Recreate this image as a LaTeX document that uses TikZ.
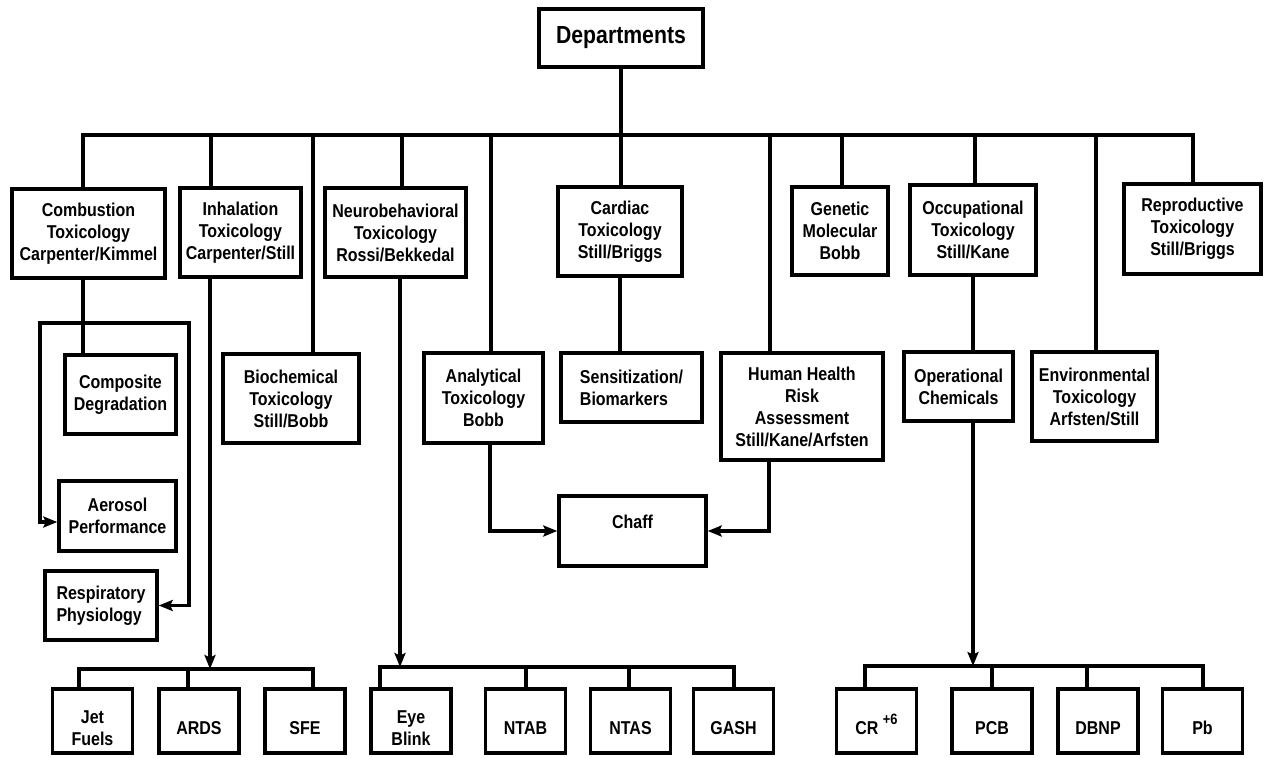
\documentclass[tikz,border=0pt]{standalone}
\usepackage{fontspec}
\setmainfont{Liberation Sans}[FakeStretch=0.86]
\usetikzlibrary{arrows.meta}

\begin{document}
\begin{tikzpicture}[x=1pt,y=-1pt,line width=3.4pt,
  box/.style={draw,rectangle,align=center,inner sep=2pt,font=\fontsize{18.6}{22}\selectfont\bfseries},
  sz/.style 2 args={minimum width=#1,minimum height=#2},
  leaf/.style={box,sz={80pt}{64pt},text height=27pt},
  leafii/.style={box,sz={80pt}{64pt},text height=49pt},
  arr/.style={-{Stealth[length=14pt,width=11pt,inset=2.5pt]}},
  arrs/.style={{Stealth[length=14pt,width=11pt,inset=2.5pt]}-{Stealth[length=14pt,width=11pt,inset=2.5pt]}}]
\useasboundingbox (0,0) rectangle (1265,757);

\node[box,sz={164pt}{58pt},font=\fontsize{24.7}{28}\selectfont\bfseries] (dep) at (621,38) {Departments};

% departments row
\node[box,sz={153pt}{89pt}] (comb) at (88.5,233.5) {Combustion\\Toxicology\\Carpenter/Kimmel};
\node[box,sz={121pt}{89pt}] (inh) at (240.5,232.5) {Inhalation\\Toxicology\\Carpenter/Still};
\node[box,sz={141pt}{89pt}] (neuro) at (395.5,232.5) {Neurobehavioral\\Toxicology\\Rossi/Bekkedal};
\node[box,sz={124pt}{89pt}] (card) at (620,231.5) {Cardiac\\Toxicology\\Still/Briggs};
\node[box,sz={96pt}{88pt}] (gen) at (840,231) {Genetic\\Molecular\\Bobb};
\node[box,sz={126pt}{90pt}] (occ) at (973,230) {Occupational\\Toxicology\\Still/Kane};
\node[box,sz={137pt}{90pt}] (rep) at (1192.5,229) {Reproductive\\Toxicology\\Still/Briggs};

% second row
\node[box,sz={111pt}{79pt}] (compo) at (120.5,394.5) {Composite\\Degradation};
\node[box,sz={136pt}{89pt}] (bio) at (291,398.5) {Biochemical\\Toxicology\\Still/Bobb};
\node[box,sz={119pt}{90pt}] (ana) at (483.5,398) {Analytical\\Toxicology\\Bobb};
\node[box,sz={141pt}{69pt},align=left] (sens) at (631.5,387.5) {Sensitization/\\Biomarkers};
\node[box,sz={162pt}{107pt}] (hh) at (802,406.5) {Human Health\\Risk\\Assessment\\Still/Kane/Arfsten};
\node[box,sz={109pt}{69pt}] (oper) at (958.5,386.5) {Operational\\Chemicals};
\node[box,sz={125pt}{89pt}] (env) at (1094.5,396.5) {Environmental\\Toxicology\\Arfsten/Still};
\node[box,sz={117pt}{70pt}] (aero) at (117.5,516) {Aerosol\\Performance};
\node[box,sz={112pt}{69pt},align=left] (resp) at (101,605.5) {Respiratory\\Physiology};
\node[box,sz={147pt}{70pt},text depth=18pt] (chaff) at (632.5,531) {Chaff};

% projects
\node[leafii] (jet) at (92.5,721) {Jet\\Fuels};
\node[leaf] (ards) at (199,721) {ARDS};
\node[leaf] (sfe) at (305,721) {SFE};
\node[leafii] (eye) at (411,721) {Eye\\Blink};
\node[leaf] (ntab) at (525.5,721) {NTAB};
\node[leaf] (ntas) at (630.5,721) {NTAS};
\node[leaf] (gash) at (733.5,721) {GASH};
\node[leaf] (cr) at (876.5,721) {CR \raisebox{10pt}{\fontsize{15}{15}\selectfont +6}};
\node[leaf] (pcb) at (992,721) {PCB};
\node[leaf] (dbnp) at (1098,721) {DBNP};
\node[leaf] (pb) at (1202.5,721) {Pb};

\coordinate (bus) at (621,135);
\draw (dep) -- (bus);
\foreach \n/\dx in {comb/-5.5,inh/-29.5,bio/22,neuro/6.5,ana/7.5,card/1,hh/-32,gen/2,occ/2,env/1.5,rep/0.5}
  \draw ([xshift=\dx]\n.north) |- (bus);

\coordinate (combS) at ([xshift=-5.5]comb.south);
\draw (combS) -- (combS |- compo.north);
\coordinate (loopL) at (40,323);
\coordinate (loopR) at (189,323);
\draw[arrs] (resp.east) -| (loopR) -- (loopL) |- ([yshift=-6pt]aero.west);

\draw (card.south) -- (card.south |- sens.north);
\draw (occ.south) -- (occ.south |- oper.north);
\draw[arr] ([xshift=6.5]ana.south) |- (chaff.west);
\draw[arr] ([xshift=-33]hh.south) |- (chaff.east);

\coordinate (busA) at (210,669);
\draw[arr] ([xshift=-30.5]inh.south) -- (busA);
\foreach \n/\dx in {jet/-13.5,ards/-11,sfe/8}
  \draw ([xshift=\dx]\n.north) |- (busA);

\coordinate (busB) at (400,667);
\draw[arr] ([xshift=4.5]neuro.south) -- (busB);
\foreach \n/\dx in {eye/-31,ntab/0.5,ntas/-1.5,gash/0.5}
  \draw ([xshift=\dx]\n.north) |- (busB);

\coordinate (busC) at (973,666);
\draw[arr] ([xshift=14.5]oper.south) -- (busC);
\foreach \n/\dx in {cr/-11.5,pcb/0,dbnp/-11,pb/0.5}
  \draw ([xshift=\dx]\n.north) |- (busC);
\end{tikzpicture}
\end{document}
